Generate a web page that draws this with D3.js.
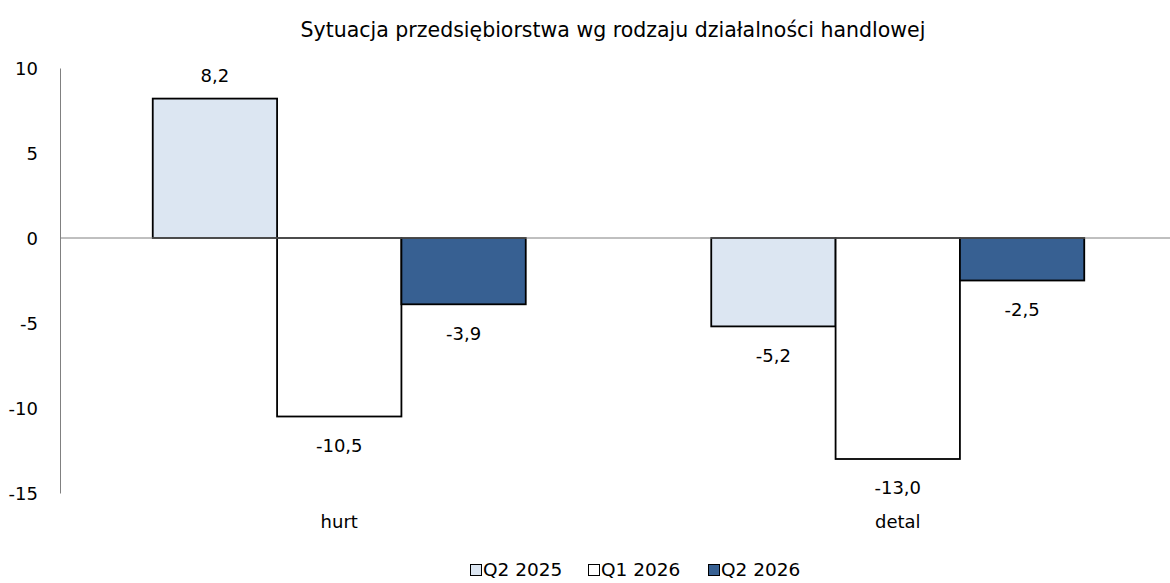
<!DOCTYPE html>
<html>
<head>
<meta charset="utf-8">
<script src="https://cdn.jsdelivr.net/npm/d3@7"></script>
<style>
  body { margin: 0; background: #fff; }
  svg text { font-family: "DejaVu Sans", sans-serif; fill: #000; }
</style>
</head>
<body>
<div id="chart"></div>
<script>
var categories = ['hurt', 'detal'];
var series = ['Q2 2025', 'Q1 2026', 'Q2 2026'];
var q2_2025 = [8.2, -5.2];
var q1_2026 = [-10.5, -13.0];
var q2_2026 = [-3.9, -2.5];
var yTicks = [10, 5, 0, -5, -10, -15];

var values = [q2_2025, q1_2026, q2_2026];
var color = d3.scaleOrdinal().domain(series).range(['#dce6f2', '#ffffff', '#376092']);

var width = 1170, height = 583;
var svg = d3.select('#chart').append('svg')
  .attr('width', width).attr('height', height);

var y = d3.scaleLinear().domain([-15, 10]).range([493, 68]);
var x0 = d3.scaleBand().domain(categories).range([60, 1177]);
// bars fill roughly two thirds of each category band
var groupW = 373;
var x1 = d3.scaleBand().domain(series)
  .range([(x0.bandwidth() - groupW) / 2, (x0.bandwidth() + groupW) / 2]);

// title
svg.append('text')
  .attr('x', 613).attr('y', 30).attr('dy', '0.35em')
  .attr('text-anchor', 'middle')
  .style('font-size', '20.5px')
  .text('Sytuacja przedsiębiorstwa wg rodzaju działalności handlowej');

// y axis
var yAxis = d3.axisLeft(y).tickValues(yTicks).tickSize(0).tickPadding(22)
  .tickFormat(function(d) { return d; });
var ya = svg.append('g').attr('transform', 'translate(60,0)').call(yAxis);
ya.select('.domain').attr('stroke', '#808080');
ya.selectAll('text').style('font-size', '18px').attr('dy', '0.35em');

var rows = [];
categories.forEach(function(c, i) {
  series.forEach(function(s, j) {
    rows.push({ cat: c, ser: s, val: values[j][i] });
  });
});

var g = svg.append('g');
g.selectAll('rect').data(rows).enter().append('rect')
  .attr('x', function(d) { return x0(d.cat) + x1(d.ser); })
  .attr('width', x1.bandwidth())
  .attr('y', function(d) { return y(Math.max(0, d.val)); })
  .attr('height', function(d) { return Math.abs(y(d.val) - y(0)); })
  .attr('fill', function(d) { return color(d.ser); })
  .attr('stroke', '#000').attr('stroke-width', 1.8);

// zero line
svg.append('line')
  .attr('x1', 60).attr('x2', width)
  .attr('y1', y(0)).attr('y2', y(0))
  .attr('stroke', '#808080').attr('stroke-width', 1);

g.selectAll('text.lbl').data(rows).enter().append('text')
  .attr('class', 'lbl')
  .attr('x', function(d) { return x0(d.cat) + x1(d.ser) + x1.bandwidth() / 2; })
  .attr('y', function(d) { return d.val >= 0 ? y(d.val) - 23 : y(d.val) + 29; })
  .attr('dy', '0.35em')
  .attr('text-anchor', 'middle')
  .style('font-size', '18px')
  .text(function(d) { return d3.format('.1f')(d.val).replace('.', ',').replace('−', '-'); });

// category labels
svg.selectAll('text.cat').data(categories).enter().append('text')
  .attr('class', 'cat')
  .attr('x', function(d) { return x0(d) + x0.bandwidth() / 2; })
  .attr('y', 522).attr('dy', '0.35em')
  .attr('text-anchor', 'middle')
  .style('font-size', '18px')
  .text(function(d) { return d; });

// legend
var legendX = [470, 588, 708];
var lg = svg.append('g').selectAll('g').data(series).enter().append('g')
  .attr('transform', function(d, i) { return 'translate(' + legendX[i] + ',570)'; });
lg.append('rect')
  .attr('x', 0.5).attr('y', -5.5).attr('width', 11).attr('height', 11)
  .attr('fill', function(d) { return color(d); })
  .attr('stroke', '#000').attr('stroke-width', 1);
lg.append('text')
  .attr('x', 13).attr('dy', '0.35em')
  .style('font-size', '18.5px')
  .text(function(d) { return d; });
</script>
</body>
</html>
